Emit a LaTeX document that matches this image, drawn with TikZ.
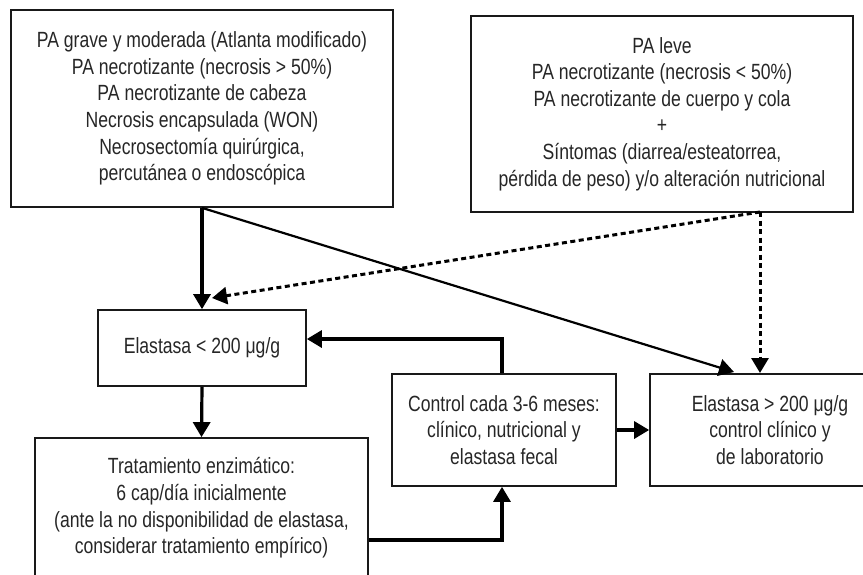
\documentclass[tikz,border=0pt]{standalone}
\usepackage{fontspec}
\setmainfont[FakeStretch=0.8]{Liberation Sans}
\usetikzlibrary{arrows.meta}
\tikzset{
  box/.style={draw=black!90, line width=1.7pt, inner sep=0pt, align=center,
    font=\fontsize{22}{26.6}\selectfont, text=black!85},
  thickarrow/.style={line width=3.2pt, -{Triangle[width=17pt,length=15pt]}},
  thinarrow/.style={line width=2.2pt, -{Triangle[width=17pt,length=15pt]}},
  dasharrow/.style={line width=3pt, dash pattern=on 5pt off 3.5pt, -{Triangle[width=17pt,length=15pt]}},
}
\begin{document}
\begin{tikzpicture}[x=1pt,y=-1pt]
\useasboundingbox (0,0) rectangle (863,574);
\node[box, minimum width=382pt, minimum height=197pt] (A) at (202,108.5)
  {PA grave y moderada (Atlanta modificado)\\PA necrotizante (necrosis > 50\%)\\PA necrotizante de cabeza\\Necrosis encapsulada (WON)\\Necrosectomía quirúrgica,\\percutánea o endoscópica};
\node[box, minimum width=382pt, minimum height=196pt] (B) at (662,114)
  {PA leve\\PA necrotizante (necrosis < 50\%)\\PA necrotizante de cuerpo y cola\\+\\Síntomas (diarrea/esteatorrea,\\pérdida de peso) y/o alteración nutricional};
\node[box, minimum width=208pt, minimum height=76pt] (C) at (202,348)
  {Elastasa < 200 μg/g};
\node[box, minimum width=333pt, minimum height=140pt] (D) at (201.5,508)
  {Tratamiento enzimático:\\6 cap/día inicialmente\\(ante la no disponibilidad de elastasa,\\considerar tratamiento empírico)};
\node[box, minimum width=224pt, minimum height=112pt] (E) at (504,430)
  {Control cada 3-6 meses:\\clínico, nutricional y\\elastasa fecal};
\node[box, minimum width=240pt, minimum height=112pt] (F) at (770,430)
  {Elastasa > 200 μg/g\\control clínico y\\de laboratorio};
\coordinate (bs) at (760,212);
\coordinate (ft) at (760,373);
\coordinate (fd) at (734,372);
\coordinate (ct) at (212,298);
\draw[thickarrow] (A.south) -- (C.north);
\draw[thinarrow] (A.south) -- (fd);
\draw[dasharrow] (bs) -- (ct);
\draw[dasharrow] (bs) -- (ft);
\draw[thickarrow] (C.south) -- (D.north);
\draw[thickarrow] ([xshift=-2pt]E.north) |- ([yshift=9pt]C.east);
\draw[thickarrow] (E.east) -- (F.west);
\draw[thickarrow] ([yshift=-32pt]D.east) -| ([xshift=-2pt]E.south);
\end{tikzpicture}
\end{document}
